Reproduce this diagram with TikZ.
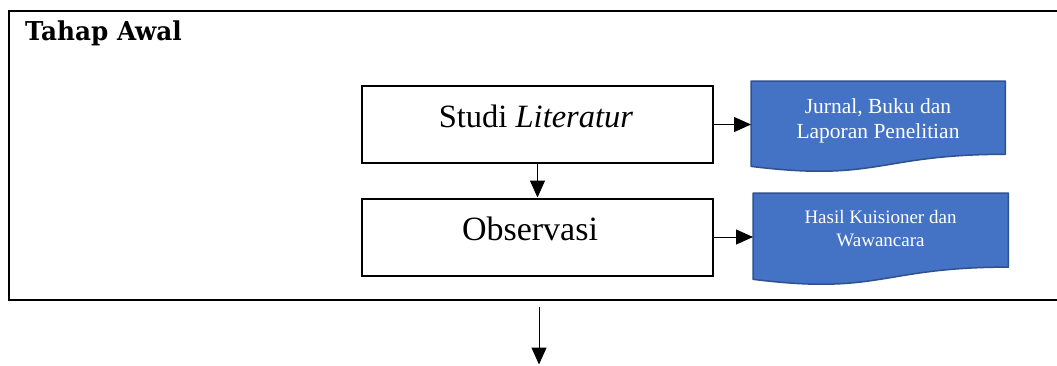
\documentclass[tikz,border=0pt]{standalone}
\usepackage{fontspec}
\setmainfont{Liberation Serif}
\newfontfamily\headfont[FakeStretch=0.95]{DejaVu Serif}
\usetikzlibrary{arrows.meta,calc}

\definecolor{docfill}{HTML}{4472C4}
\definecolor{docline}{HTML}{2F528F}

\tikzset{
  stagebox/.style={draw, line width=2pt, minimum width=351pt, minimum height=77pt, inner sep=0pt},
  stagetext/.style={inner sep=0pt, anchor=base, font=\fontsize{33}{36}\selectfont},
  docarea/.style={minimum width=254pt, minimum height=91pt, inner sep=0pt, anchor=north west},
  docshape/.style={fill=docfill, draw=docline, line width=1.5pt, line join=round},
  doctext/.style={inner sep=0pt, text=white, align=center},
  arr/.style={line width=1pt, -{Triangle[length=17pt,width=15pt]}},
}

% document-shaped output box with a wavy lower edge
\newcommand\wavedoc[1]{%
  \path[docshape] (#1.north west) -- (#1.north east)
    -- ($(#1.north east)!0.802!(#1.south east)$)
    .. controls ($(#1.north)!0.802!(#1.south)$) and ($(#1.north)!1.1075!(#1.south)$)
    .. ($(#1.north west)!0.934!(#1.south west)$) -- cycle;}

\begin{document}
\begin{tikzpicture}[x=1pt,y=-1pt]
  \useasboundingbox (0,0) rectangle (1057,365);
  \clip (0,0) rectangle (1057,365);
  \fill[white] (0,0) rectangle (1057,365);

  % stage frame (open at the right edge)
  \draw[line width=2pt] (1070,11) -- (9,11) -- (9,300) -- (1070,300);
  \node[anchor=base west, inner sep=0pt, font=\headfont\bfseries\fontsize{26}{30}\selectfont] (title) at (25,40) {Tahap Awal};

  % process steps
  \node[stagebox] (studi) at (537.5,124.5) {};
  \node[stagetext, font=\fontsize{32.5}{36}\selectfont] (studiT) at (536,127) {Studi \textit{Literatur}};
  \node[stagebox] (obs) at (537.5,237) {};
  \node[stagetext, font=\fontsize{34}{36}\selectfont] (obsT) at (530,240) {Observasi};

  % outputs
  \node[docarea] (jurnal) at (751,81) {};
  \wavedoc{jurnal}
  \node[doctext, font=\fontsize{21.5}{25}\selectfont] (jurnalT) at (878,121) {Jurnal, Buku dan\\Laporan Penelitian};

  \node[docarea, minimum width=255pt, minimum height=92pt] (hasil) at (753,193) {};
  \wavedoc{hasil}
  \node[doctext, font=\fontsize{19}{23}\selectfont] (hasilT) at (880.5,228.5) {Hasil Kuisioner dan\\Wawancara};

  % connectors
  \draw[arr] (studi.south) -- (obs.north);
  \draw[arr] (studi.east) -- (studi.east -| jurnal.west);
  \draw[arr] (obs.east) -- (obs.east -| hasil.west);

  \coordinate (nextA) at (539,307);
  \coordinate (nextB) at (539,364.5);
  \draw[arr] (nextA) -- (nextB);
\end{tikzpicture}
\end{document}
